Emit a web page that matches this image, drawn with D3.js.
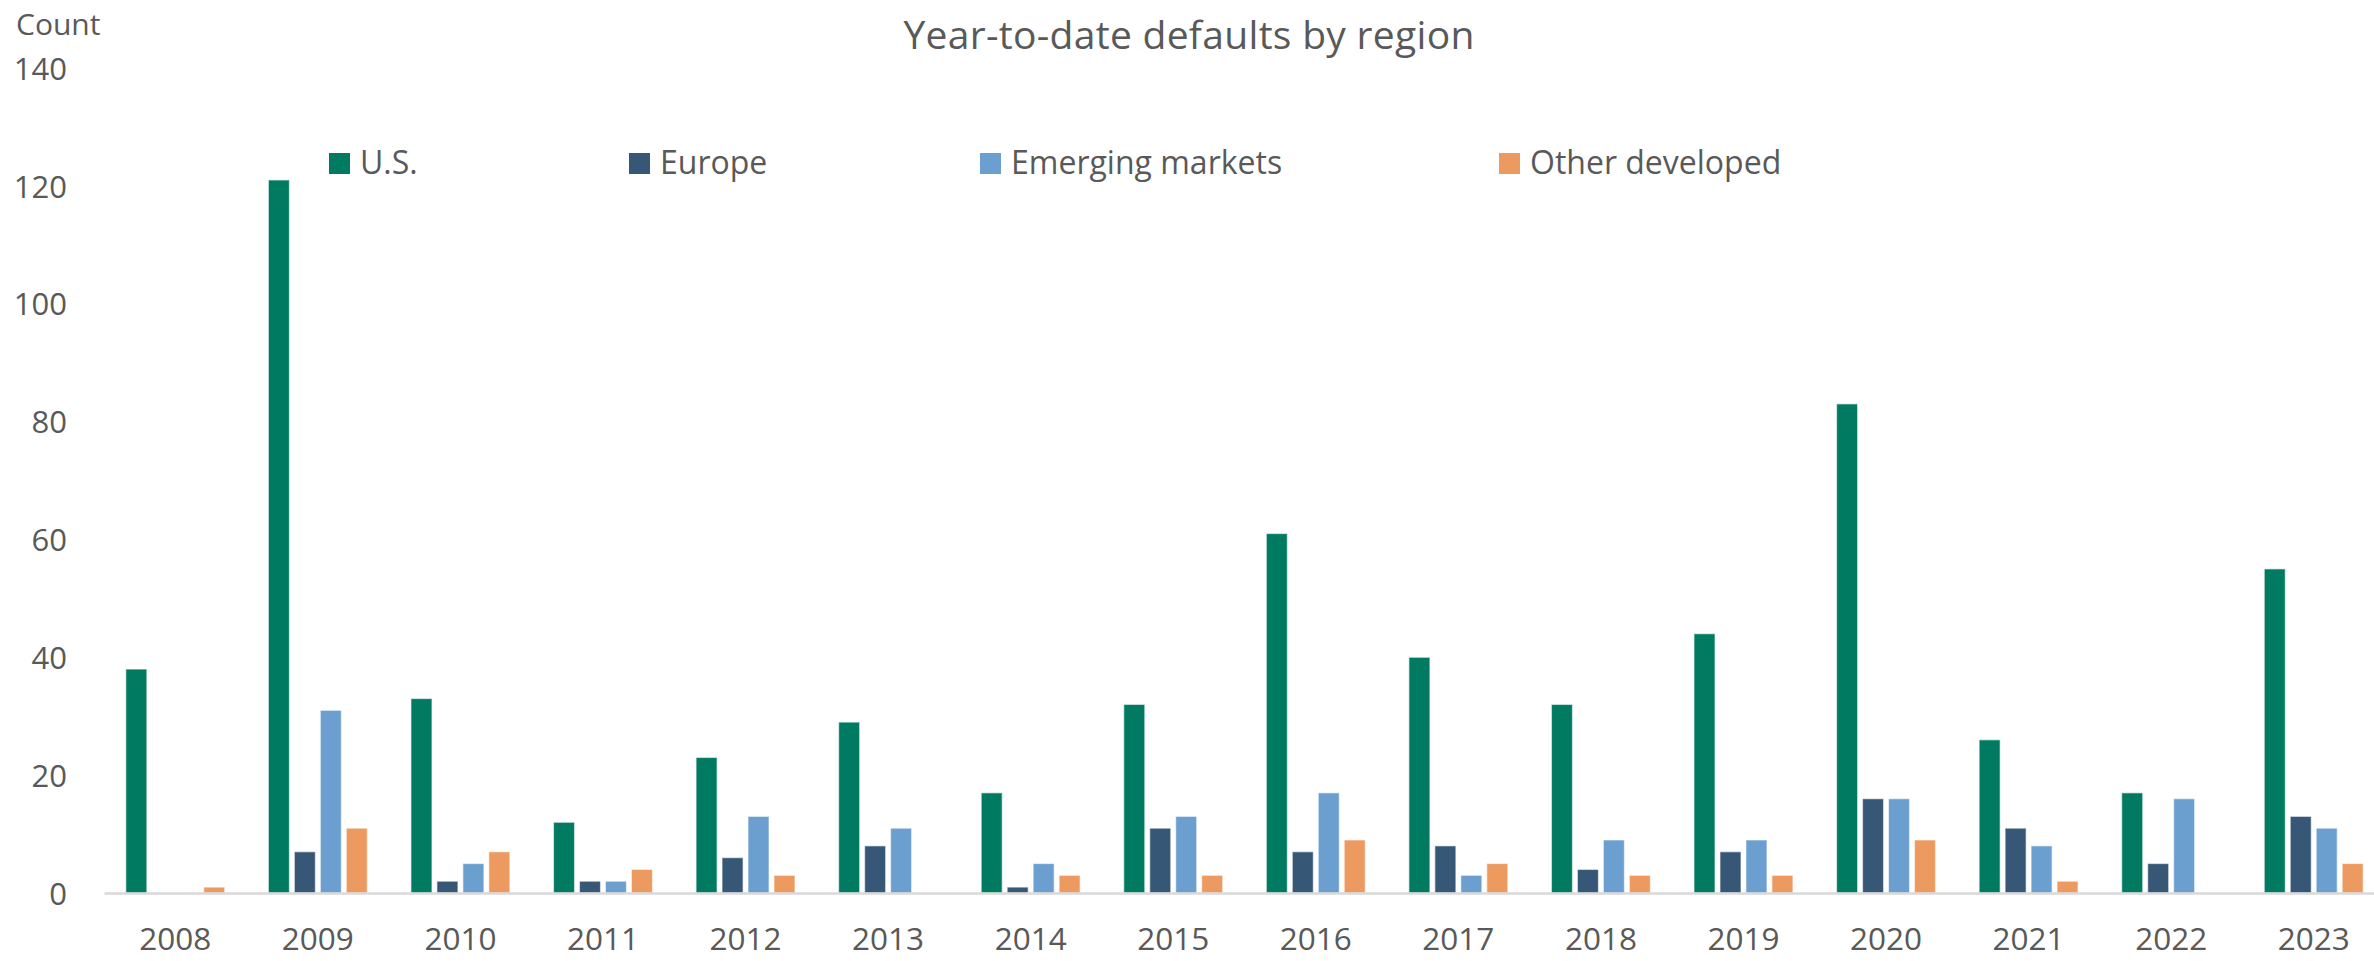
<!DOCTYPE html>
<html>
<head>
<meta charset="utf-8">
<script src="https://cdn.jsdelivr.net/npm/d3@7"></script>
<style>
  html, body { margin: 0; padding: 0; background: #ffffff; }
  svg { display: block; }
  text { font-family: "Open Sans", "Noto Sans", sans-serif; fill: #595959; }
</style>
</head>
<body>
<svg id="chart"></svg>
<script>
// Year-to-date default counts by region, 2008-2023
const years = ["2008","2009","2010","2011","2012","2013","2014","2015",
               "2016","2017","2018","2019","2020","2021","2022","2023"];
const seriesNames = ["U.S.", "Europe", "Emerging markets", "Other developed"];
const usDefaults       = [38, 121, 33, 12, 23, 29, 17, 32, 61, 40, 32, 44, 83, 26, 17, 55];
const europeDefaults   = [0, 7, 2, 2, 6, 8, 1, 11, 7, 8, 4, 7, 16, 11, 5, 13];
const emergingDefaults = [0, 31, 5, 2, 13, 11, 5, 13, 17, 3, 9, 9, 16, 8, 16, 11];
const otherDefaults    = [1, 11, 7, 4, 3, 0, 3, 3, 9, 5, 3, 3, 9, 2, 0, 5];
const yTicks = [0, 20, 40, 60, 80, 100, 120, 140];

const colors = ["#007b62", "#375776", "#6a9fd0", "#ec9a5f"];
const seriesValues = [usDefaults, europeDefaults, emergingDefaults, otherDefaults];

const W = 2374, H = 961;
const svg = d3.select("#chart").attr("width", W).attr("height", H);

const plot = { left: 104, right: 2385, top: 68, bottom: 893 };

const x0 = d3.scaleBand().domain(years)
  .range([plot.left, plot.right])
  .paddingInner(0.306).paddingOuter(0.153);
const x1 = d3.scaleBand().domain(seriesNames)
  .range([0, x0.bandwidth()])
  .paddingInner(0.19);
const y = d3.scaleLinear().domain([0, 140]).range([plot.bottom, plot.top]);

const rows = years.map((yr, i) => ({
  year: yr,
  values: seriesNames.map((name, s) => ({ name, value: seriesValues[s][i], color: colors[s] }))
}));

// Title
svg.append("text")
  .attr("x", 1189).attr("y", 49)
  .attr("text-anchor", "middle")
  .style("font-size", "39px")
  .style("letter-spacing", "0.3px")
  .text("Year-to-date defaults by region");

// Axis caption
svg.append("text")
  .attr("x", 16).attr("y", 35)
  .style("font-size", "30px")
  .text("Count");

// Bars
const groups = svg.append("g").selectAll("g")
  .data(rows).join("g")
  .attr("transform", d => `translate(${x0(d.year)},0)`);

groups.selectAll("rect")
  .data(d => d.values.filter(v => v.value > 0))
  .join("rect")
  .attr("x", d => x1(d.name))
  .attr("width", x1.bandwidth())
  .attr("y", d => y(d.value))
  .attr("height", d => y(0) - y(d.value))
  .attr("fill", d => d.color)
  .attr("stroke", "rgba(255,255,255,0.55)")
  .attr("stroke-width", 1.2);

// Y axis (labels only)
const yAxis = d3.axisLeft(y).tickValues(yTicks).tickSize(0).tickPadding(0);
const yG = svg.append("g")
  .attr("transform", `translate(67,0)`)
  .call(yAxis);
yG.select(".domain").remove();
yG.selectAll("text")
  .attr("dy", "0.36em")
  .style("font-size", "31px")
  .style("font-family", "\"Open Sans\", \"Noto Sans\", sans-serif")
  .attr("fill", "#595959");

// X axis
const xAxis = d3.axisBottom(x0).tickSize(0).tickPadding(0);
const xG = svg.append("g")
  .attr("transform", `translate(0,${plot.bottom})`)
  .call(xAxis);
xG.select(".domain")
  .attr("stroke", "#d9d9d9")
  .attr("stroke-width", 2.5);
xG.selectAll("text")
  .attr("y", 57)
  .attr("dy", 0)
  .style("font-size", "31.5px")
  .style("font-family", "\"Open Sans\", \"Noto Sans\", sans-serif")
  .attr("fill", "#595959");

// Legend
const legendX = [329, 629, 980, 1499];
const legend = svg.append("g").selectAll("g")
  .data(seriesNames).join("g")
  .attr("transform", (d, i) => `translate(${legendX[i]},153)`);
legend.append("rect")
  .attr("width", 21).attr("height", 21)
  .attr("fill", (d, i) => colors[i]);
legend.append("text")
  .attr("x", 31).attr("y", 21)
  .style("font-size", "32px")
  .text(d => d);
</script>
</body>
</html>
